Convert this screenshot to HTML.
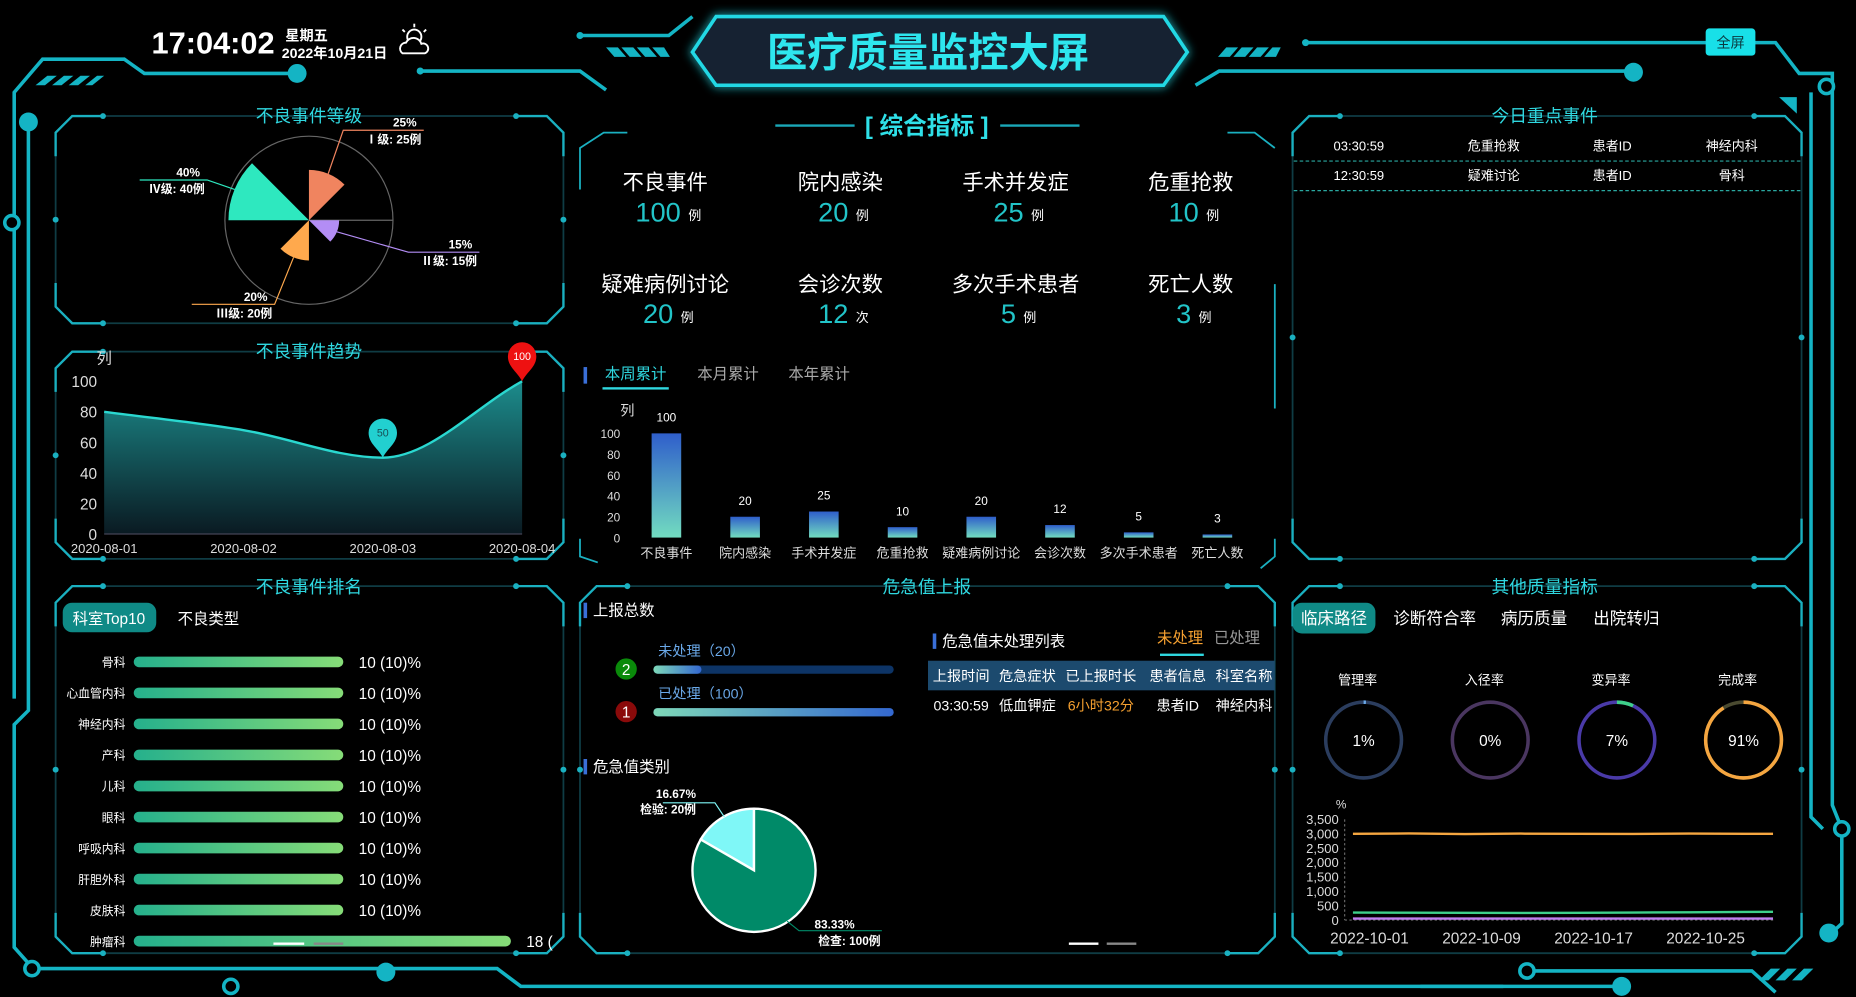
<!DOCTYPE html>
<html><head><meta charset="utf-8">
<style>
html,body{margin:0;padding:0;background:#000;width:1856px;height:997px;overflow:hidden}
svg{display:block}
text{font-family:"Liberation Sans","Noto Sans CJK SC",sans-serif}
</style></head>
<body>
<svg id="root" width="1856" height="997" viewBox="0 0 1568 842" preserveAspectRatio="none" xmlns="http://www.w3.org/2000/svg">
<defs>
<linearGradient id="gArea" x1="0" y1="0" x2="0" y2="1"><stop offset="0" stop-color="#1c8c8c"/><stop offset="1" stop-color="#0a1a22"/></linearGradient>
<linearGradient id="gBar" x1="0" y1="0" x2="0" y2="1"><stop offset="0" stop-color="#2f5ecb"/><stop offset="1" stop-color="#72dcc0"/></linearGradient>
<linearGradient id="gRank" x1="0" y1="0" x2="1" y2="0"><stop offset="0" stop-color="#25b08c"/><stop offset="1" stop-color="#86dc78"/></linearGradient>
<linearGradient id="gProg" x1="0" y1="0" x2="1" y2="0"><stop offset="0" stop-color="#7ed8b8"/><stop offset="1" stop-color="#3468d0"/></linearGradient>
<filter id="glow" x="-20%" y="-50%" width="140%" height="200%"><feGaussianBlur stdDeviation="4" result="b"/><feMerge><feMergeNode in="b"/><feMergeNode in="SourceGraphic"/></feMerge></filter>
</defs>

<g stroke="#14b4c4" stroke-width="3" fill="none">
<polyline points="12,590 12,78 36,50 105,50 122,62 250,62"/>
<polyline points="24,103 24,600 12,612 12,800 28,818 420,818 440,833 1270,833"/>
<polyline points="355,60 490,60 512,76"/>
<polyline points="490,30 565,30 585,14"/>
<polyline points="1010,72 1030,60 1380,60"/>
<polyline points="1105,36 1500,36 1520,62 1548,62 1548,680 1556,700 1556,780 1545,790"/>
<polyline points="1530,78 1530,690 1540,700"/>
<polyline points="1290,820 1480,820 1500,838"/>
<polyline points="1200,833 1370,833"/>
</g>
<g fill="#14b4c4">
<circle cx="251" cy="62" r="8"/><circle cx="24" cy="103" r="8"/><circle cx="326" cy="821" r="8"/><circle cx="1380" cy="61" r="8"/><circle cx="1370" cy="833" r="8"/><circle cx="1545" cy="788" r="8"/><circle cx="490" cy="30" r="3"/><circle cx="355" cy="60" r="3"/><circle cx="1103" cy="36" r="3"/>
<circle cx="10" cy="188" r="6" fill="#000" stroke="#14b4c4" stroke-width="3"/>
<circle cx="27" cy="818" r="6" fill="#000" stroke="#14b4c4" stroke-width="3"/>
<circle cx="195" cy="833" r="6" fill="#000" stroke="#14b4c4" stroke-width="3"/>
<circle cx="1290" cy="820" r="6" fill="#000" stroke="#14b4c4" stroke-width="3"/>
<circle cx="1543" cy="73" r="6" fill="#000" stroke="#14b4c4" stroke-width="3"/>
<circle cx="1556" cy="700" r="6" fill="#000" stroke="#14b4c4" stroke-width="3"/>
<polygon points="30,72 40,64 48,64 38,72"/><polygon points="44,72 54,64 62,64 52,72"/><polygon points="58,72 68,64 76,64 66,72"/><polygon points="72,72 82,64 88,64 78,72"/>
<polygon points="1486,828 1496,818 1504,818 1494,828"/><polygon points="1500,828 1510,818 1518,818 1508,828"/><polygon points="1514,828 1524,818 1532,818 1522,828"/>
<polygon points="1503,82 1518,82 1518,96"/>
<polygon points="512,40 522,40 529,48 519,48"/><polygon points="525,40 535,40 542,48 532,48"/><polygon points="538,40 548,40 555,48 545,48"/><polygon points="551,40 561,40 566,48 558,48"/>
<polygon points="1036,40 1046,40 1039,48 1029,48"/><polygon points="1049,40 1059,40 1052,48 1042,48"/><polygon points="1062,40 1072,40 1065,48 1055,48"/><polygon points="1075,40 1082,40 1078,48 1068,48"/>
</g>

<text x="128" y="45" font-size="26" font-weight="bold" fill="#fff">17:04:02</text>
<text x="241" y="34" font-size="12" font-weight="bold" fill="#fff">星期五</text>
<text x="238" y="49" font-size="12" font-weight="bold" fill="#fff">2022年10月21日</text>
<g stroke="#fff" stroke-width="1.6" fill="none"><circle cx="350" cy="31" r="6"/><path d="M340,45 a5,5 0 0 1 3,-9 a7,7 0 0 1 13,1 a4,4 0 0 1 3,8 z" fill="#000"/><line x1="350" y1="20" x2="350" y2="23"/><line x1="340" y1="25" x2="342" y2="27"/><line x1="360" y1="25" x2="358" y2="27"/></g>
<g>
<polygon points="585,44 605,14 983,14 1003,44 983,72 605,72" fill="#152030" stroke="#22d8e4" stroke-width="3" filter="url(#glow)"/>
<text x="784" y="56" font-size="34" font-weight="bold" fill="#2ee6ee" text-anchor="middle">医疗质量监控大屏</text>
</g>
<g><rect x="1441" y="24" width="42" height="23" rx="3" fill="#18e0e8"/><text x="1462" y="40" font-size="12" fill="#0a3a40" text-anchor="middle">全屏</text></g>

<g id="panels"></g>

<text x="261" y="103" font-size="15" fill="#2fd8e0" text-anchor="middle">不良事件等级</text>
<text x="261" y="302" font-size="15" fill="#2fd8e0" text-anchor="middle">不良事件趋势</text>
<text x="261" y="501" font-size="15" fill="#2fd8e0" text-anchor="middle">不良事件排名</text>
<text x="1305" y="103" font-size="15" fill="#2fd8e0" text-anchor="middle">今日重点事件</text>
<text x="1305" y="501" font-size="15" fill="#2fd8e0" text-anchor="middle">其他质量指标</text>
<text x="783" y="501" font-size="15" fill="#2fd8e0" text-anchor="middle">危急值上报</text>
<g>
<line x1="655" y1="106" x2="722" y2="106" stroke="#1aa8b8" stroke-width="2"/><line x1="845" y1="106" x2="912" y2="106" stroke="#1aa8b8" stroke-width="2"/>
<text x="783" y="113" font-size="20" font-weight="bold" fill="#2fe0e8" text-anchor="middle">[ 综合指标 ]</text>
</g>

<g id="trend"></g>
<g id="rose"></g>
<g id="rank"></g>
<g id="kpi"></g>
<g id="bars"></g>
<g id="critical"></g>
<g id="today"></g>
<g id="other"></g>
</svg>
<script>
const roseNames=['Ⅰ级','Ⅱ级','Ⅲ级','Ⅳ级'];
const roseValues=[25,15,20,40];
const trendDates=['2020-08-01','2020-08-02','2020-08-03','2020-08-04'];
const trendValues=[80,68,50,100];
const trendTicks=[0,20,40,60,80,100];
const rankNames=['骨科','心血管内科','神经内科','产科','儿科','眼科','呼吸内科','肝胆外科','皮肤科','肿瘤科'];
const rankValues=[10,10,10,10,10,10,10,10,10,18];
const rankLabels=['10 (10)%','10 (10)%','10 (10)%','10 (10)%','10 (10)%','10 (10)%','10 (10)%','10 (10)%','10 (10)%','18 ('];
const kpiLabels=['不良事件','院内感染','手术并发症','危重抢救','疑难病例讨论','会诊次数','多次手术患者','死亡人数'];
const kpiValues=[100,20,25,10,20,12,5,3];
const kpiUnits=['例','例','例','例','例','次','例','例'];
const barCats=['不良事件','院内感染','手术并发症','危重抢救','疑难病例讨论','会诊次数','多次手术患者','死亡人数'];
const barValues=[100,20,25,10,20,12,5,3];
const barTicks=[0,20,40,60,80,100];
const reportNames=['未处理','已处理'];
const reportValues=[20,100];
const pieNames=['检验','检查'];
const pieValues=[20,100];
const gaugeLabels=['管理率','入径率','变异率','完成率'];
const gaugeValues=[1,0,7,91];
const lineDays=[1,5,9,13,17,21,25,29,31];
const lineTickLabels=['2022-10-01','2022-10-09','2022-10-17','2022-10-25'];
const lineTickDays=[1,9,17,25];
const lineOrange=[3000,3010,2990,3005,3000,2995,3005,3000,3000];
const lineGreen=[260,255,250,245,250,260,270,280,285];
const linePurple=[50,50,50,50,50,50,50,50,50];
const lineTicks=[0,500,1000,1500,2000,2500,3000,3500];
const todayRows=[['03:30:59','危重抢救','患者ID','神经内科'],['12:30:59','疑难讨论','患者ID','骨科']];

const NS='http://www.w3.org/2000/svg';
function mk(parent,tag,attrs,txt){const e=document.createElementNS(NS,tag);for(const k in attrs)e.setAttribute(k,attrs[k]);if(txt!==undefined)e.textContent=txt;parent.appendChild(e);return e;}
function T(parent,x,y,s,size,fill,anchor,extra){const o=Object.assign({x:x,y:y,'font-size':size,fill:fill,'text-anchor':anchor||'start'},extra||{});return mk(parent,'text',o,s);}

const P=document.getElementById('panels');
function panel(x1,y1,x2,y2,name){
  const c=14;
  const g=mk(P,'g',{});
  
  
  mk(g,'path',{d:`M${x1},${y1+c} L${x1+c},${y1} L${x2-c},${y1} L${x2},${y1+c} L${x2},${y2-c} L${x2-c},${y2} L${x1+c},${y2} L${x1},${y2-c} Z`,fill:'none',stroke:'#0f3c44','stroke-width':1.5});
  mk(g,'path',{d:`M${x1},${y1+c+20} L${x1},${y1+c} L${x1+c},${y1} L${x1+40},${y1} M${x2-40},${y1} L${x2-c},${y1} L${x2},${y1+c} L${x2},${y1+c+20} M${x1},${y2-c-20} L${x1},${y2-c} L${x1+c},${y2} L${x1+40},${y2} M${x2-40},${y2} L${x2-c},${y2} L${x2},${y2-c} L${x2},${y2-c-20}`,fill:'none',stroke:'#1ab0c0','stroke-width':2});
  [[x1,(y1+y2)/2],[x2,(y1+y2)/2],[x1+40,y1],[x2-40,y1],[x1+40,y2],[x2-40,y2]].forEach(p=>mk(g,'circle',{cx:p[0],cy:p[1],r:2.5,fill:'#1ab0c0'}));
}
panel(47,98,476,273,'grade-panel');
panel(47,297,476,472,'trend-panel');
panel(47,495,476,805,'rank-panel');
panel(1092,98,1522,472,'today-panel');
panel(1092,495,1522,805,'other-panel');
panel(490,495,1077,805,'critical-panel');
(function(){const g=mk(P,'g',{});


mk(g,'path',{d:'M490,160 L490,125 L510,112 L530,112 M1037,112 L1060,112 L1077,125 M1077,240 L1077,345 M490,455 L490,470 L505,475 M1077,455 L1077,470 L1065,480',fill:'none',stroke:'#1ab0c0','stroke-width':1.5});})();

(function(){
const g=document.getElementById('rose');
const cx=261,cy=186,k=1.7;
const colors=['#f0845f','#b38df5','#ffa94d','#2ee8bf'];
const starts=[90,0,270,180];
const total=roseValues.reduce((a,b)=>a+b,0);
mk(g,'circle',{cx:cx,cy:cy,r:71,fill:'none',stroke:'#666','stroke-width':1});
mk(g,'line',{x1:cx,y1:cy,x2:cx+71,y2:cy,stroke:'#666','stroke-width':1});
const lbl=[[290,110,358,'end'],[345,213,405,'end'],[162,257,232,'start'],[118,152,175,'start']];
roseValues.forEach((v,i)=>{
  const r=v*k, a0=starts[i]*Math.PI/180, a1=(starts[i]-45)*Math.PI/180;
  const x0=cx+r*Math.cos(a0),y0=cy-r*Math.sin(a0),x1=cx+r*Math.cos(a1),y1=cy-r*Math.sin(a1);
  const p=mk(g,'path',{d:`M${cx},${cy} L${x0},${y0} A${r},${r} 0 0 1 ${x1},${y1} Z`,fill:colors[i]});
  
  
  const am=(starts[i]-22.5)*Math.PI/180;
  const ex=cx+r*Math.cos(am),ey=cy-r*Math.sin(am);
  const L=lbl[i];
  const lx=L[3]==='end'?L[0]:L[2];
  mk(g,'polyline',{points:`${ex},${ey} ${lx},${L[1]} ${L[3]==='end'?L[2]:L[0]},${L[1]}`,fill:'none',stroke:colors[i],'stroke-width':1});
  const tx=L[2]-2;
  const t1=T(g,tx-4,L[1]-3,Math.round(v/total*100)+'%',10,'#fff','end',{'font-weight':'bold'});
  
  const t2=T(g,tx,L[1]+11,roseNames[i]+': '+v+'例',10,'#fff','end',{'font-weight':'bold'});
  
});
})();

(function(){
const g=document.getElementById('trend');
const x=i=>88+i*117.7, y=v=>451-v*1.29;
T(g,88,307,'列',13,'#ddd','middle');
trendTicks.forEach(t=>{const e=T(g,82,y(t)+5,String(t),13,'#ddd','end');});
trendDates.forEach((d,i)=>{const e=T(g,x(i),467,d,11,'#ddd','middle');});
const pts=trendValues.map((v,i)=>[x(i),y(v)]);
const n=pts.length,dx=[],m=[],s=[];
for(let i=0;i<n-1;i++){dx[i]=pts[i+1][0]-pts[i][0];s[i]=(pts[i+1][1]-pts[i][1])/dx[i];}
m[0]=s[0];m[n-1]=s[n-2];
for(let i=1;i<n-1;i++){m[i]=s[i-1]*s[i]<=0?0:(s[i-1]+s[i])/2;}
let d=`M${pts[0][0]},${pts[0][1]}`;
for(let i=0;i<n-1;i++){const h=dx[i]/3;d+=` C${pts[i][0]+h},${pts[i][1]+m[i]*h} ${pts[i+1][0]-h},${pts[i+1][1]-m[i+1]*h} ${pts[i+1][0]},${pts[i+1][1]}`;}
const a=mk(g,'path',{d:d+` L${x(n-1)},${y(0)} L${x(0)},${y(0)} Z`,fill:'url(#gArea)'});


const l=mk(g,'path',{d:d,fill:'none',stroke:'#2ad8d0','stroke-width':2});


mk(g,'line',{x1:x(0),y1:y(0),x2:x(n-1),y2:y(0),stroke:'#445','stroke-width':1});
let mi=0,ma=0;trendValues.forEach((v,i)=>{if(v<trendValues[mi])mi=i;if(v>trendValues[ma])ma=i;});
[[mi,'#22d0d0','#174f55'],[ma,'#ee1111','#fff']].forEach(q=>{
  const px=x(q[0]),py=y(trendValues[q[0]]);
  const pin=mk(g,'path',{d:`M${px},${py} C${px-4},${py-8} ${px-12},${py-12} ${px-12},${py-21} A12,12 0 1 1 ${px+12},${py-21} C${px+12},${py-12} ${px+4},${py-8} ${px},${py} Z`,fill:q[1]});
  
  
  T(g,px,py-18,String(trendValues[q[0]]),9,q[2],'middle');
});
})();

(function(){
const g=document.getElementById('rank');
const t1=mk(g,'g',{});


mk(t1,'rect',{x:53,y:509,width:79,height:25,rx:8,fill:'#0f8a86'});
T(t1,92,527,'科室Top10',13,'#fff','middle');
const t2=T(g,176,527,'不良类型',13,'#fff','middle');


rankNames.forEach((nm,i)=>{
  const yy=559+i*26.2;
  T(g,106,yy+4,nm,10,'#fff','end');
  const b=mk(g,'rect',{x:113,y:yy-4.5,width:rankValues[i]*17.7,height:9,rx:4.5,fill:'url(#gRank)'});
  
  
  T(g,113+rankValues[i]*17.7+13,yy+5,rankLabels[i],13,'#fff','start');
});
mk(g,'line',{x1:231,y1:797,x2:257,y2:797,stroke:'#fff','stroke-width':2});
mk(g,'line',{x1:265,y1:797,x2:290,y2:797,stroke:'#888','stroke-width':2});
})();

(function(){
const g=document.getElementById('kpi');
const cols=[562,710,858,1006];
kpiLabels.forEach((lb,i)=>{
  const cx=cols[i%4], r=Math.floor(i/4);
  const ly=r?246:160, vy=r?273:187;
  const e=T(g,cx,ly,lb,18,'#fff','middle');
  
  const v=T(g,cx-6,vy,String(kpiValues[i]),23,'#22c4c8','middle');
  
  const w=String(kpiValues[i]).length*6.5;
  T(g,cx-6+w+6,vy-1,kpiUnits[i],11,'#fff','start');
});
})();

(function(){
const g=document.getElementById('bars');
mk(g,'rect',{x:493,y:310,width:3,height:14,fill:'#3a6fd8'});
const tb=[['本周累计',537,'#2fd8e0'],['本月累计',615,'#aaa'],['本年累计',692,'#aaa']];
tb.forEach((t,i)=>{const e=T(g,t[1],320,t[0],13,t[2],'middle');});
mk(g,'rect',{x:509,y:327,width:56,height:2,fill:'#2fd8e0'});
const x=i=>563+i*66.5, y=v=>454-v*0.88;
T(g,530,351,'列',12,'#ddd','middle');
barTicks.forEach(t=>{const e=T(g,524,y(t)+4,String(t),10,'#ddd','end');});
barValues.forEach((v,i)=>{
  const b=mk(g,'rect',{x:x(i)-12.5,y:y(v),width:25,height:v*0.88,fill:'url(#gBar)'});
  
  
  T(g,x(i),y(v)-10,String(v),10,'#fff','middle');
  T(g,x(i),471,barCats[i],11,'#ddd','middle');
});
})();

(function(){
const g=document.getElementById('critical');
mk(g,'rect',{x:493,y:509,width:3,height:13,fill:'#3a6fd8'});
T(g,501,520,'上报总数',13,'#fff');
const circ=[['2','#0a8a0a',565],['1','#8a0a0a',601]];
reportNames.forEach((nm,i)=>{
  const cy=circ[i][2];
  mk(g,'circle',{cx:529,cy:cy,r:9,fill:circ[i][1]});
  T(g,529,cy+5,circ[i][0],13,'#fff','middle');
  T(g,556,cy-11,nm+'（'+reportValues[i]+'）',12,'#6aa8e8','start');
  mk(g,'rect',{x:552,y:cy-3,width:203,height:7,rx:3.5,fill:'#0d3466'});
  const w=203*reportValues[i]/Math.max(...reportValues);
  const b=mk(g,'rect',{x:552,y:cy-3,width:w,height:7,rx:3.5,fill:'url(#gProg)'});
  
  
});
mk(g,'rect',{x:493,y:641,width:3,height:13,fill:'#3a6fd8'});
T(g,501,652,'危急值类别',13,'#fff');
const cx=637,cy=735,r=52;
const sum=pieValues.reduce((a,b)=>a+b,0);
const cols=['#7ff7f7','#008a68'];
let ang=90;
pieValues.forEach((v,i)=>{
  const sweep=v/sum*360, a0=ang*Math.PI/180, a1=(ang+sweep)*Math.PI/180;
  const p=mk(g,'path',{d:`M${cx},${cy} L${cx+r*Math.cos(a0)},${cy-r*Math.sin(a0)} A${r},${r} 0 ${sweep>180?1:0} 0 ${cx+r*Math.cos(a1)},${cy-r*Math.sin(a1)} Z`,fill:cols[i],stroke:'#fff','stroke-width':2});
  
  
  ang+=sweep;
});
const pct=pieValues.map(v=>(v/sum*100).toFixed(2)+'%');
mk(g,'polyline',{points:'612,690 604,678 560,678',fill:'none',stroke:'#7ff7f7','stroke-width':1});
T(g,588,674,pct[0],10,'#fff','end',{'font-weight':'bold'});
T(g,588,687,pieNames[0]+': '+pieValues[0]+'例',10,'#fff','end',{'font-weight':'bold'});
mk(g,'polyline',{points:'665,778 675,786 745,786',fill:'none',stroke:'#008a68','stroke-width':1});
T(g,722,784,pct[1],10,'#fff','end',{'font-weight':'bold'});
T(g,744,798,pieNames[1]+': '+pieValues[1]+'例',10,'#fff','end',{'font-weight':'bold'});
mk(g,'rect',{x:788,y:535,width:3,height:13,fill:'#3a6fd8'});
T(g,796,546,'危急值未处理列表',13,'#fff');
const ta=T(g,997,543,'未处理',13,'#f5a030','middle');


const tb2=T(g,1045,543,'已处理',13,'#999','middle');


mk(g,'rect',{x:980,y:552,width:37,height:2,fill:'#2fd8e0'});
mk(g,'rect',{x:784,y:558,width:293,height:25,fill:'#1c4a6e'});
const hx=[812,868,930,995,1051];
['上报时间','危急症状','已上报时长','患者信息','科室名称'].forEach((h,i)=>T(g,hx[i],575,h,12,'#fff','middle'));
['03:30:59','低血钾症','6小时32分','患者ID','神经内科'].forEach((h,i)=>T(g,hx[i],600,h,12,i==2?'#f5a030':'#fff','middle'));
mk(g,'line',{x1:903,y1:797,x2:928,y2:797,stroke:'#fff','stroke-width':2});
mk(g,'line',{x1:935,y1:797,x2:960,y2:797,stroke:'#888','stroke-width':2});
})();

(function(){
const g=document.getElementById('today');
const xs=[1148,1262,1362,1463];
todayRows.forEach((r,i)=>{
  const yy=127+i*25;
  r.forEach((c,j)=>T(g,xs[j],yy,c,11,'#fff','middle'));
  const ln=mk(g,'line',{x1:1093,y1:yy+9,x2:1521,y2:yy+9,stroke:'#2aa8a0','stroke-width':1,'stroke-dasharray':'3,2'});
  
});
})();

(function(){
const g=document.getElementById('other');
const t=mk(g,'g',{});


mk(t,'rect',{x:1092,y:509,width:70,height:26,rx:8,fill:'#0f8a86'});
T(t,1127,527,'临床路径',14,'#fff','middle');
[['诊断符合率',1212],['病历质量',1296],['出院转归',1374]].forEach((q,i)=>{const e=T(g,q[1],527,q[0],14,'#fff','middle');});
const gx=[1152,1259,1366,1473];
const base=['#2b3d5e','#4a3660','#4a3aa8','#4a4a30'];
const arc=['#6aa8e8','#8a6ab0','#3ed08a','#f5a640'];
gaugeLabels.forEach((lb,i)=>{
  T(g,gx[i]-5,578,lb,11,'#fff','middle');
  const cx=gx[i],cy=625,r=32;
  mk(g,'circle',{cx:cx,cy:cy,r:r,fill:'none',stroke:base[i],'stroke-width':3});
  const C=2*Math.PI*r,v=gaugeValues[i];
  const a=mk(g,'circle',{cx:cx,cy:cy,r:r,fill:'none',stroke:arc[i],'stroke-width':3,'stroke-dasharray':`${C*v/100} ${C}`,transform:`rotate(-90 ${cx} ${cy})`});
  
  
  T(g,cx,cy+5,v+'%',13,'#fff','middle');
});
const x=d=>1143+(d-1)*11.83, y=v=>777-v*85/3500;
T(g,1133,683,'%',10,'#ddd','middle');
lineTicks.forEach(tk=>{const e=T(g,1131,y(tk)+4,tk.toLocaleString('en-US'),11,'#ddd','end');});
mk(g,'line',{x1:1136,y1:692,x2:1136,y2:777,stroke:'#666','stroke-dasharray':'2,2'});
mk(g,'line',{x1:1136,y1:777,x2:1500,y2:777,stroke:'#666','stroke-dasharray':'2,2'});
lineTickLabels.forEach((lb,i)=>{const e=T(g,x(lineTickDays[i])+14,797,lb,13,'#ddd','middle');});
[[lineOrange,'#f5a640'],[lineGreen,'#3ed08a'],[linePurple,'#c080f0']].forEach((s,k)=>{
  const p=mk(g,'polyline',{points:s[0].map((v,i)=>x(lineDays[i])+','+y(v)).join(' '),fill:'none',stroke:s[1],'stroke-width':2});
  
  
});
})();
</script>
</body></html>
